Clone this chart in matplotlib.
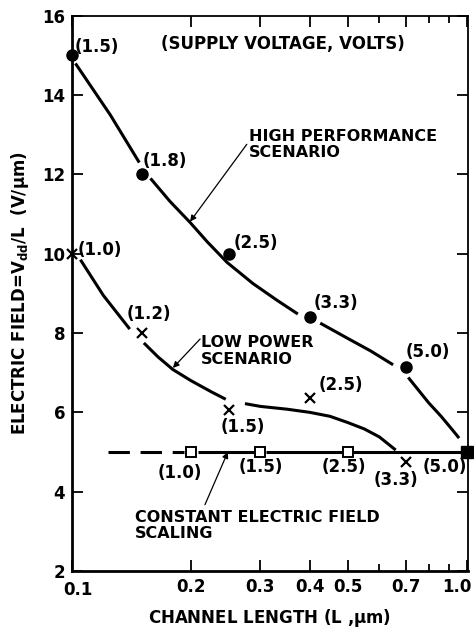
import matplotlib
matplotlib.use('Agg')
import matplotlib.pyplot as plt
import matplotlib.transforms as mtransforms

plt.rcParams['font.family'] = ['DejaVu Sans']
plt.rcParams['font.weight'] = 'bold'
plt.rcParams['mathtext.default'] = 'regular'

# 高性能方案 (实心圆)
hp_L = [0.1, 0.15, 0.25, 0.4, 0.7]
hp_E = [15.0, 12.0, 10.0, 8.4, 7.14]
hp_V = ['(1.5)', '(1.8)', '(2.5)', '(3.3)', '(5.0)']
hp_off = [(18, 6), (17, 10), (19, 8), (19, 10), (16, 11)]

# 高性能曲线 (分段, 在标记处断开)
hp_seg_L = [[0.102, 0.125, 0.148],
            [0.158, 0.177, 0.199, 0.22, 0.247, 0.287, 0.33, 0.373],
            [0.425, 0.5, 0.57, 0.65],
            [0.71, 0.8, 0.86, 0.92, 0.955]]
hp_seg_E = [[14.8, 13.5, 12.3],
            [11.9, 11.32, 10.79, 10.3, 9.78, 9.25, 8.83, 8.48],
            [8.25, 7.86, 7.55, 7.2],
            [6.88, 6.24, 5.9, 5.55, 5.35]]

# 低功耗方案 (叉号)
lp_L = [0.1, 0.15, 0.25, 0.4, 0.7]
lp_E = [10.0, 8.0, 6.05, 6.35, 4.75]
lp_V = ['(1.0)', '(1.2)', '(1.5)', '(2.5)', '(3.3)']
lp_off = [(20, 3), (5, 14), (10, -12), (22, 10), (-7, -13)]

lp_seg_L = [[0.105, 0.12, 0.14],
            [0.152, 0.165, 0.18, 0.2, 0.225, 0.245],
            [0.274, 0.3, 0.35, 0.4, 0.45, 0.5, 0.55, 0.6, 0.66]]
lp_seg_E = [[9.85, 8.95, 8.1],
            [7.75, 7.4, 7.08, 6.8, 6.52, 6.33],
            [6.22, 6.15, 6.08, 6.0, 5.9, 5.74, 5.58, 5.38, 5.05]]

# 恒定电场缩放 (空心方块)
cf_L = [0.2, 0.3, 0.5]
cf_E = [5.0, 5.0, 5.0]
cf_V = ['(1.0)', '(1.5)', '(2.5)']
cf_off = [(-8, -15), (0, -11), (-3, -11)]
end_L = [1.0]
end_E = [5.0]
end_V = ['(5.0)']
cf_dash_L = [0.123, 0.192]
cf_solid_L = [0.208, 0.29, 0.31, 0.485, 0.515, 0.985]

fig = plt.figure(figsize=(4.74, 6.33), dpi=100)
ax = fig.add_axes([0.152, 0.098, 0.835, 0.877])
ax.set_xscale('log')
ax.set_xlim(0.1, 1.005)
ax.set_ylim(2, 16)

lw = 2.2
for xs, ys in zip(hp_seg_L, hp_seg_E):
    ax.plot(xs, ys, color='black', lw=lw, solid_capstyle='butt')
for xs, ys in zip(lp_seg_L, lp_seg_E):
    ax.plot(xs, ys, color='black', lw=lw, solid_capstyle='butt')

ax.plot(cf_dash_L, [5.0] * len(cf_dash_L), color='black', lw=lw,
        dashes=(7, 3.5))
for i in range(0, len(cf_solid_L), 2):
    ax.plot(cf_solid_L[i:i + 2], [5.0, 5.0], color='black', lw=lw,
            solid_capstyle='butt')

ax.plot(hp_L, hp_E, 'o', color='black', ms=8, clip_on=False)
ax.plot(lp_L, lp_E, 'x', color='black', ms=7, mew=1.6, clip_on=False)
ax.plot(cf_L, cf_E, 's', mfc='white', mec='black', ms=6.5, mew=1.4)
ax.plot(end_L, end_E, 's', color='black', ms=8, clip_on=False)

fs = 12
for L, E, t, o in zip(hp_L + lp_L + cf_L + end_L,
                      hp_E + lp_E + cf_E + end_E,
                      hp_V + lp_V + cf_V + end_V,
                      hp_off + lp_off + cf_off + [(-16, -11)]):
    ax.annotate(t, (L, E), xytext=o, textcoords='offset points',
                ha='center', va='center', fontsize=fs, fontweight='bold')

ax.text(0.168, 15.3, '(SUPPLY VOLTAGE, VOLTS)', fontsize=fs,
        fontweight='bold', va='center')

# 说明文字与箭头
afs = 11.5
arrow = dict(arrowstyle='-|>', color='black', lw=0.9, mutation_scale=9,
             shrinkA=0, shrinkB=0)
ax.text(0.28, 13.15, 'HIGH PERFORMANCE\nSCENARIO', fontsize=afs,
        fontweight='bold', ha='left', va='top', linespacing=1.1)
ax.annotate('', xy=(0.199, 10.81), xytext=(0.277, 12.76), arrowprops=arrow)
ax.text(0.212, 7.95, 'LOW POWER\nSCENARIO', fontsize=afs,
        fontweight='bold', ha='left', va='top', linespacing=1.15)
ax.annotate('', xy=(0.18, 7.12), xytext=(0.211, 7.85), arrowprops=arrow)
ax.text(0.144, 3.55, 'CONSTANT ELECTRIC FIELD\nSCALING', fontsize=afs,
        fontweight='bold', ha='left', va='top', linespacing=1.15)
ax.annotate('', xy=(0.248, 5.0), xytext=(0.217, 3.67), arrowprops=arrow)

ax.set_yticks([2, 4, 6, 8, 10, 12, 14, 16])
ax.set_xticks([0.1, 0.2, 0.3, 0.4, 0.5, 0.7, 1.0])
ax.set_xticklabels(['0.1', '0.2', '0.3', '0.4', '0.5', '0.7', '1.0'])
ax.set_xticks([0.6, 0.8, 0.9], minor=True)
ax.set_xticklabels([], minor=True)
ax.tick_params(axis='both', which='major', direction='in', length=8,
               width=1.3, labelsize=fs, top=True, right=True, pad=5)
ax.tick_params(axis='x', which='minor', direction='in', length=5,
               width=1.3, top=True)
for lab in ax.get_xticklabels() + ax.get_yticklabels():
    lab.set_fontweight('bold')

# 左下角 "0.1" 右移, 右端 "1.0" 左移
xlabs = ax.get_xticklabels()
xlabs[0].set_transform(xlabs[0].get_transform() +
                       mtransforms.ScaledTranslation(6 / 100, -3 / 100,
                                                     fig.dpi_scale_trans))
xlabs[-1].set_transform(xlabs[-1].get_transform() +
                        mtransforms.ScaledTranslation(-10 / 100, 0,
                                                      fig.dpi_scale_trans))

ax.spines['left'].set_linewidth(2.0)
ax.spines['bottom'].set_linewidth(2.0)
ax.spines['top'].set_linewidth(1.3)
ax.spines['right'].set_linewidth(1.3)

ax.set_xlabel(r'CHANNEL LENGTH (L ,$\mu$m)', fontsize=fs, fontweight='bold',
              labelpad=6)
ax.set_ylabel(r'ELECTRIC FIELD=V$_{dd}$/L  (V/$\mu$m)', fontsize=fs,
              fontweight='bold', labelpad=8)

plt.savefig('out.png', dpi=100)
plt.close()
